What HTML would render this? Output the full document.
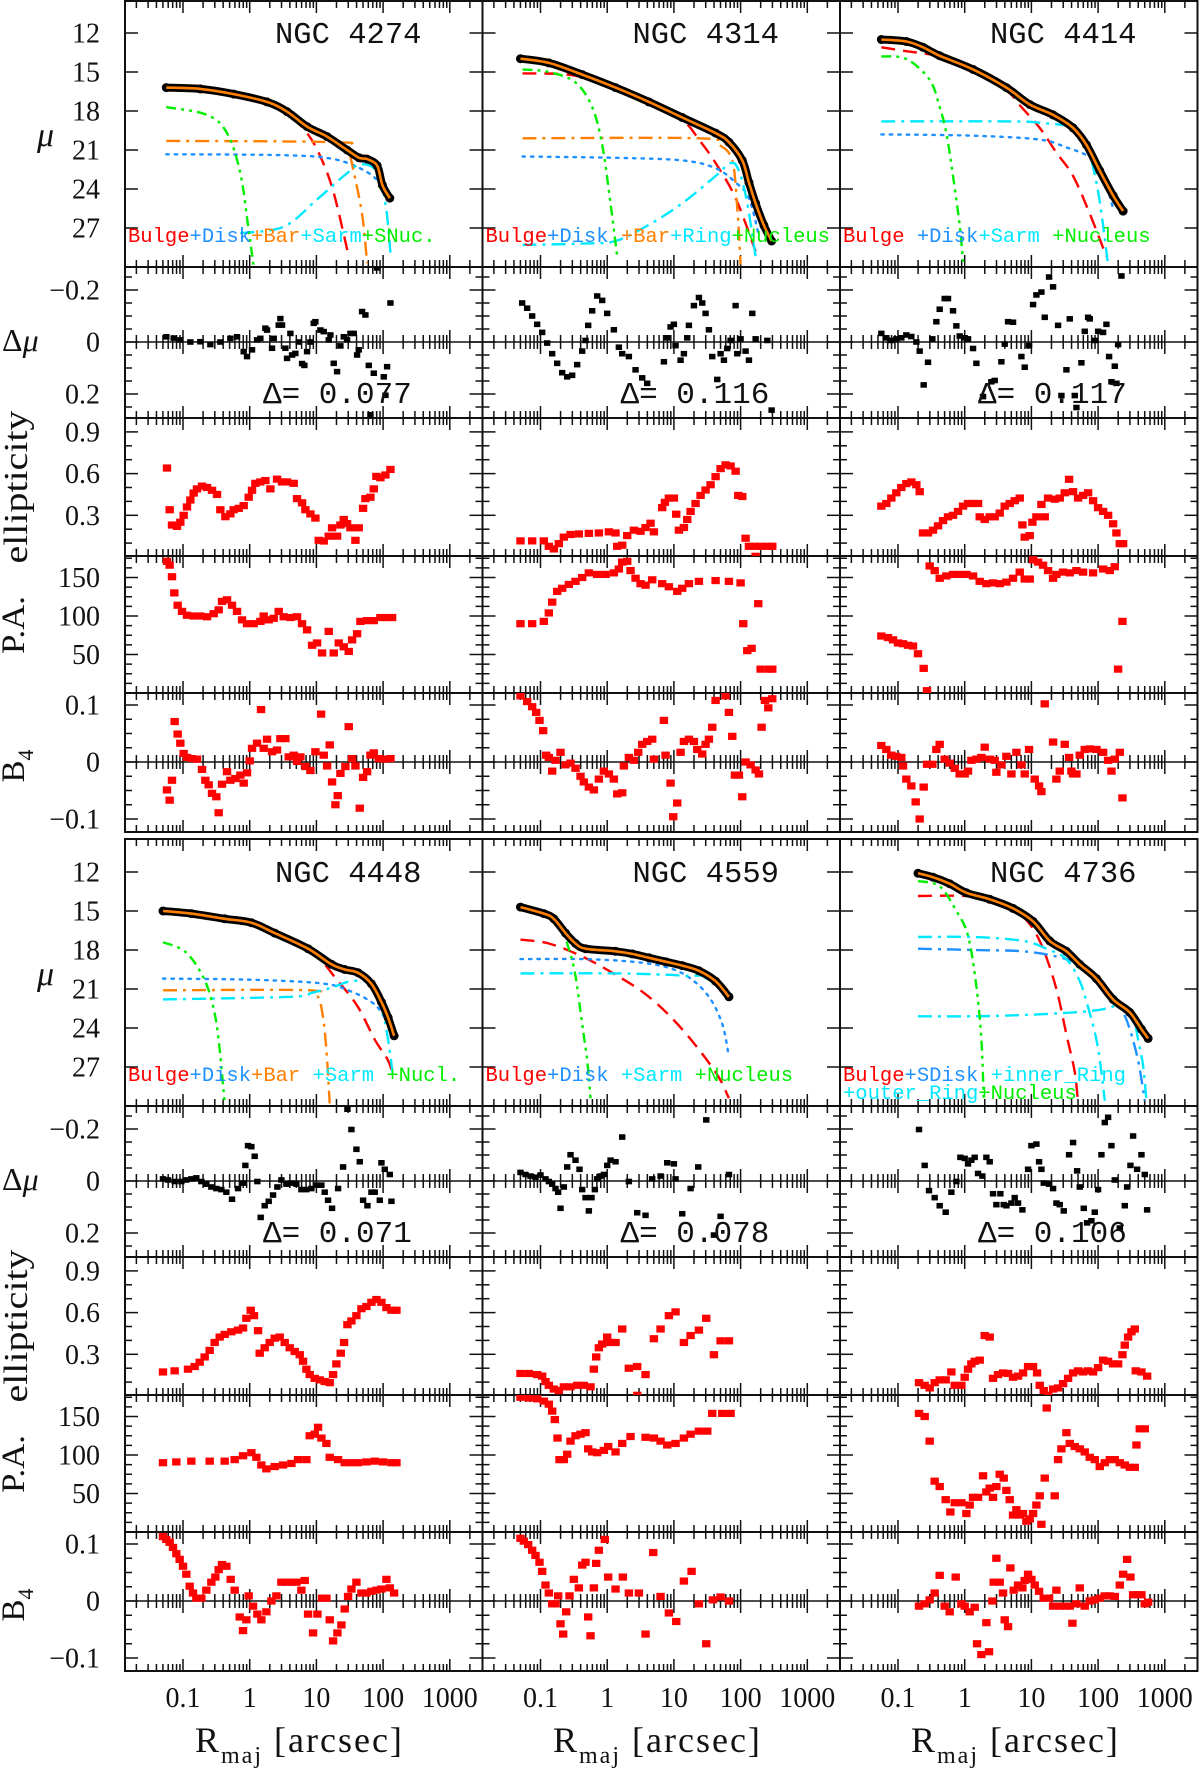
<!DOCTYPE html>
<html><head><meta charset="utf-8"><title>Surface brightness profile decompositions</title>
<style>
html,body{margin:0;padding:0;background:#fff;}
svg{display:block;}
.tl{font-family:"Liberation Serif",serif;font-size:28px;fill:#111;}
.ttl{font-family:"Liberation Serif",serif;fill:#111;}
.mono{font-family:"Liberation Mono",monospace;fill:#111;white-space:pre;}
.leg{font-family:"Liberation Mono",monospace;font-size:20.5px;white-space:pre;}
</style></head>
<body>
<svg id="chart" width="1200" height="1770" viewBox="0 0 1200 1770" xmlns="http://www.w3.org/2000/svg">
<rect x="0" y="0" width="1200" height="1770" fill="#fff"/>
<g id="plots"></g>
<g id="labels">
  <text class="ttl" x="37" y="146" font-size="34" font-style="italic">μ</text>
  <text class="ttl" x="2" y="351" font-size="32">Δ<tspan font-style="italic">μ</tspan></text>
  <text class="ttl" font-size="34" text-anchor="middle" textLength="153" lengthAdjust="spacingAndGlyphs" transform="translate(27,487) rotate(-90)">ellipticity</text>
  <text class="ttl" font-size="33" text-anchor="middle" textLength="58" lengthAdjust="spacingAndGlyphs" transform="translate(24,625) rotate(-90)">P.A.</text>
  <text class="ttl" font-size="33" text-anchor="middle" transform="translate(24,766) rotate(-90)">B<tspan font-size="22" dy="9">4</tspan></text>
  <text class="ttl" x="37" y="985" font-size="34" font-style="italic">μ</text>
  <text class="ttl" x="2" y="1190" font-size="32">Δ<tspan font-style="italic">μ</tspan></text>
  <text class="ttl" font-size="34" text-anchor="middle" textLength="153" lengthAdjust="spacingAndGlyphs" transform="translate(27,1326) rotate(-90)">ellipticity</text>
  <text class="ttl" font-size="33" text-anchor="middle" textLength="58" lengthAdjust="spacingAndGlyphs" transform="translate(24,1464) rotate(-90)">P.A.</text>
  <text class="ttl" font-size="33" text-anchor="middle" transform="translate(24,1605) rotate(-90)">B<tspan font-size="22" dy="9">4</tspan></text>
  <text class="ttl" x="195" y="1752" font-size="36" letter-spacing="2">R<tspan font-size="24" dy="11">maj</tspan><tspan dy="-11"> [arcsec]</tspan></text>
  <text class="ttl" x="553" y="1752" font-size="36" letter-spacing="2">R<tspan font-size="24" dy="11">maj</tspan><tspan dy="-11"> [arcsec]</tspan></text>
  <text class="ttl" x="911" y="1752" font-size="36" letter-spacing="2">R<tspan font-size="24" dy="11">maj</tspan><tspan dy="-11"> [arcsec]</tspan></text>
</g>
</svg>
<script>
// ---------------- DATA (log10 R [arcsec], value) ----------------
const galaxyNames=['NGC 4274','NGC 4314','NGC 4414','NGC 4448','NGC 4559','NGC 4736'];
const deltaValues=['0.077','0.116','0.117','0.071','0.078','0.106'];
const xTickValues=[0.1,1,10,100,1000];
const xTickLabels=['0.1','1','10','100','1000'];
const muTicks=[12,15,18,21,24,27];
const dmuTicks=[-0.2,0,0.2];
const dmuTickLabels=['\u22120.2','0','0.2'];
const ellTicks=[0.9,0.6,0.3];
const paTicks=[150,100,50];
const b4Ticks=[0.1,0,-0.1];
const b4TickLabels=['0.1','0','\u22120.1'];

// NGC 4274
const n4274_prof=[[-1.25,16.2],[-0.74,16.3],[-0.24,16.7],[0.26,17.3],[0.56,18.05],[0.86,19.2],[1.16,19.97],[1.46,21.0],[1.64,21.6],[1.76,21.7],[1.91,22.2],[1.99,23.7],[2.1,24.7]];
const n4274_bulge=[[-1.25,16.3],[-0.5,16.5],[0,17.0],[0.3,17.4],[0.56,18.1],[0.86,19.7],[1.06,21.5],[1.26,24.3],[1.49,29.3]];
const n4274_disk=[[-1.25,21.33],[0.5,21.4],[1.26,21.7],[1.76,22.7],[2.01,23.9],[2.11,24.8]];
const n4274_bar=[[-1.25,20.3],[1.3,20.4],[1.46,20.8],[1.56,22.7],[1.69,26.1],[1.76,29.7]];
const n4274_sarm=[[-0.14,27.4],[0.51,26.9],[1.01,24.8],[1.41,23.0],[1.66,22.1],[1.91,22.7],[2.04,25.3],[2.11,28.9]];
const n4274_nuc=[[-1.25,17.7],[-0.64,18.3],[-0.34,19.7],[-0.14,22.8],[-0.015,27.2],[0.06,30]];
const n4274_res=[[-1.25,-0.02],[-1.14,-0.015],[-1.04,-0.008],[-0.89,0],[-0.74,-0.001],[-0.59,0.01],[-0.44,0],[-0.29,-0.014],[-0.19,-0.02],[-0.09,0.037],[-0.04,0.056],[0.035,0.03],[0.11,-0.008],[0.16,-0.014],[0.235,-0.053],[0.26,-0.046],[0.335,0.024],[0.36,-0.014],[0.435,-0.065],[0.46,-0.09],[0.485,-0.065],[0.535,0.024],[0.56,0.063],[0.61,-0.033],[0.635,0.05],[0.685,0.044],[0.735,0],[0.785,0.083],[0.82,0.09],[0.86,0.037],[0.91,0],[0.96,-0.072],[0.985,-0.078],[1.06,-0.046],[1.11,-0.04],[1.185,-0.008],[1.21,-0.027],[1.26,0.082],[1.31,0.114],[1.36,0.015],[1.41,-0.02],[1.46,-0.008],[1.51,-0.033],[1.56,-0.033],[1.61,0.05],[1.635,0.03],[1.685,-0.117],[1.735,-0.104],[1.785,0.09],[1.86,0.12],[2.01,0.134],[2.035,0.205],[2.06,0.095],[2.11,-0.15],[1.81,0.28],[1.91,-0.285]];
const n4274_ell=[[-1.24,0.64],[-1.2,0.34],[-1.165,0.23],[-1.09,0.22],[-1.04,0.25],[-0.99,0.3],[-0.94,0.36],[-0.89,0.41],[-0.84,0.46],[-0.79,0.49],[-0.715,0.51],[-0.64,0.5],[-0.565,0.48],[-0.49,0.45],[-0.44,0.34],[-0.365,0.29],[-0.29,0.31],[-0.24,0.34],[-0.165,0.35],[-0.09,0.37],[-0.015,0.43],[0.035,0.48],[0.085,0.53],[0.16,0.54],[0.235,0.55],[0.31,0.49],[0.41,0.56],[0.485,0.54],[0.56,0.54],[0.66,0.53],[0.71,0.42],[0.785,0.39],[0.835,0.34],[0.91,0.31],[0.985,0.28],[1.035,0.12],[1.11,0.115],[1.185,0.15],[1.235,0.21],[1.31,0.15],[1.36,0.23],[1.41,0.27],[1.46,0.24],[1.51,0.21],[1.585,0.12],[1.635,0.21],[1.7,0.35],[1.735,0.42],[1.81,0.43],[1.86,0.49],[1.9,0.58],[1.96,0.57],[2.035,0.59],[2.11,0.63]];
const n4274_pa=[[-1.24,171],[-1.2,166],[-1.165,151],[-1.13,130],[-1.08,114],[-1.015,106],[-0.94,101],[-0.84,100],[-0.74,100],[-0.64,99],[-0.54,103],[-0.465,108],[-0.415,119],[-0.34,121],[-0.265,114],[-0.19,106],[-0.115,95],[-0.04,90],[0.06,90],[0.16,93],[0.21,100],[0.285,95],[0.36,97],[0.435,106],[0.51,99],[0.61,98],[0.71,99],[0.785,90],[0.86,82],[0.935,62],[1.01,65],[1.085,52],[1.185,80],[1.26,52],[1.335,65],[1.41,60],[1.485,54],[1.535,69],[1.61,77],[1.66,93],[1.76,94],[1.86,94],[1.96,98],[2.06,98],[2.135,98]];
const n4274_b4=[[-1.24,-0.049],[-1.2,-0.067],[-1.165,-0.032],[-1.125,0.071],[-1.08,0.049],[-1.04,0.033],[-0.99,0.015],[-0.94,0.008],[-0.865,0.006],[-0.79,0.005],[-0.715,-0.013],[-0.665,-0.032],[-0.615,-0.04],[-0.565,-0.055],[-0.5,-0.061],[-0.465,-0.089],[-0.415,-0.039],[-0.34,-0.017],[-0.29,-0.032],[-0.215,-0.029],[-0.14,-0.023],[-0.09,-0.037],[-0.04,-0.019],[0,0.002],[0.035,0.024],[0.11,0.033],[0.17,0.092],[0.21,0.024],[0.26,0.04],[0.335,0.018],[0.41,0.021],[0.46,0.041],[0.535,0.041],[0.585,0.009],[0.66,0.012],[0.71,0.001],[0.76,0.009],[0.835,-0.008],[0.91,-0.015],[0.985,0.018],[1.07,0.084],[1.11,0.012],[1.16,-0.007],[1.2,0.03],[1.235,-0.035],[1.285,-0.075],[1.32,-0.059],[1.36,-0.02],[1.435,-0.008],[1.485,0.062],[1.535,0.006],[1.585,-0.007],[1.65,-0.081],[1.7,-0.027],[1.76,-0.017],[1.81,0.012],[1.86,0.016],[1.935,0.006],[2.01,0.005],[2.11,0.006]];

// NGC 4314
const n4314_prof=[[-1.3,13.98],[-0.875,14.3],[-0.375,15.2],[0.125,16.2],[0.625,17.3],[1.125,18.5],[1.625,19.7],[1.825,20.4],[2.025,21.8],[2.125,23.5],[2.225,25.1],[2.35,26.8],[2.465,28.0]];
const n4314_bulge=[[-1.27,15.1],[-0.375,15.4],[0.625,17.5],[1.125,18.7],[1.375,20.2],[1.625,22.0],[1.925,24.7],[2.225,28.8]];
const n4314_disk=[[-1.27,21.5],[0.125,21.6],[1.125,21.8],[1.625,22.4],[1.925,23.5],[2.125,24.7],[2.275,27.6]];
const n4314_bar=[[-1.27,20.1],[1.375,20.1],[1.675,20.6],[1.875,21.8],[1.95,25.5],[2.0,29.8]];
const n4314_ring=[[-1.27,28.3],[-0.375,28.2],[0.125,28.0],[0.625,26.75],[1.125,25.1],[1.625,23.0],[1.85,22.0],[1.975,22.6],[2.1,25.1],[2.225,29.2]];
const n4314_nuc=[[-1.27,14.8],[-0.875,15.0],[-0.475,15.8],[-0.225,17.7],[-0.075,20.6],[0.05,25.1],[0.15,29.2]];
const n4314_res=[[-1.275,-0.15],[-1.2,-0.13],[-1.125,-0.1],[-1.05,-0.068],[-0.975,-0.037],[-0.9,0.004],[-0.825,0.045],[-0.75,0.082],[-0.675,0.118],[-0.6,0.134],[-0.525,0.128],[-0.45,0.087],[-0.375,0.035],[-0.325,-0.006],[-0.285,-0.064],[-0.225,-0.12],[-0.15,-0.177],[-0.075,-0.16],[0,-0.11],[0.1,-0.047],[0.175,0.02],[0.225,0.045],[0.325,0.056],[0.425,0.107],[0.525,0.138],[0.6,0.159],[0.85,0.076],[0.9,-0.016],[0.95,-0.058],[1.0,-0.068],[1.025,0.014],[1.1,0.07],[1.15,0.045],[1.2,-0.016],[1.225,-0.064],[1.3,-0.14],[1.375,-0.171],[1.425,-0.15],[1.475,-0.11],[1.525,-0.047],[1.575,0.056],[1.65,0.144],[1.7,0.045],[1.75,0.07],[1.8,0.025],[1.85,-0.006],[1.925,-0.14],[1.95,0.045],[2.0,-0.012],[2.075,0.035],[2.125,0.07],[2.175,-0.11],[2.225,-0.012],[2.4,-0.006],[2.465,0.262]];
const n4314_ell=[[-1.3,0.116],[-1.125,0.116],[-0.95,0.116],[-0.875,0.077],[-0.8,0.058],[-0.725,0.096],[-0.65,0.143],[-0.55,0.162],[-0.425,0.166],[-0.275,0.17],[-0.125,0.173],[0.025,0.181],[0.125,0.173],[0.15,0.077],[0.225,0.085],[0.3,0.154],[0.4,0.193],[0.5,0.185],[0.575,0.212],[0.65,0.243],[0.7,0.181],[0.825,0.355],[0.865,0.393],[0.925,0.424],[1.0,0.424],[1.035,0.308],[1.075,0.193],[1.15,0.212],[1.2,0.27],[1.25,0.328],[1.325,0.385],[1.4,0.443],[1.475,0.482],[1.55,0.52],[1.625,0.578],[1.7,0.636],[1.775,0.663],[1.85,0.655],[1.925,0.617],[1.965,0.443],[2.025,0.435],[2.075,0.135],[2.125,0.077],[2.2,0.077],[2.225,0.005],[2.3,0.077],[2.4,0.077],[2.475,0.077]];
const n4314_pa=[[-1.3,90],[-1.125,90],[-0.95,93],[-0.875,104],[-0.825,118],[-0.75,132],[-0.675,136],[-0.575,141],[-0.475,145],[-0.375,150],[-0.275,156],[-0.15,154],[-0.025,154],[0.1,156],[0.175,161],[0.225,170],[0.3,171],[0.35,159],[0.425,149],[0.5,142],[0.575,140],[0.675,147],[0.825,142],[0.925,138],[1.05,132],[1.125,136],[1.225,142],[1.375,145],[1.625,146],[1.825,145],[2.0,143],[2.04,90],[2.1,55],[2.165,58],[2.265,116],[2.3,31],[2.425,31],[2.475,31]];
const n4314_b4=[[-1.3,0.116],[-1.2,0.106],[-1.125,0.097],[-1.065,0.087],[-1.015,0.073],[-0.96,0.055],[-0.915,0.012],[-0.875,0.008],[-0.825,-0.016],[-0.775,0.003],[-0.7,0.017],[-0.625,-0.005],[-0.55,-0.002],[-0.475,-0.011],[-0.4,-0.025],[-0.35,-0.035],[-0.275,-0.044],[-0.2,-0.049],[-0.125,-0.03],[-0.05,-0.016],[0.025,-0.021],[0.1,-0.03],[0.15,-0.056],[0.225,-0.054],[0.25,-0.007],[0.325,0.008],[0.4,0.003],[0.465,0.017],[0.525,0.031],[0.6,0.036],[0.675,0.04],[0.7,0.005],[0.85,0.073],[0.875,0.012],[0.95,-0.037],[0.99,-0.096],[1.05,-0.072],[1.1,0.017],[1.15,0.036],[1.225,0.04],[1.3,0.036],[1.35,0.022],[1.425,0.014],[1.475,0.031],[1.525,0.04],[1.575,0.061],[1.625,0.108],[1.775,0.116],[1.825,0.087],[1.875,0.045],[1.915,-0.023],[1.975,-0.023],[2.025,-0.061],[2.075,0],[2.15,-0.005],[2.225,-0.014],[2.275,-0.021],[2.315,0.061],[2.365,0.108],[2.415,0.095],[2.475,0.111]];

// NGC 4414
const n4414_prof=[[-1.25,12.5],[-0.875,12.65],[-0.625,13.1],[-0.375,13.75],[0.125,14.8],[0.625,16.2],[0.975,17.5],[1.325,18.3],[1.625,19.3],[1.825,20.6],[2.025,22.6],[2.225,24.5],[2.375,25.7]];
const n4414_bulge=[[-1.25,13.1],[-0.875,13.4],[-0.375,13.8],[0.125,14.8],[0.625,16.4],[0.85,17.7],[1.125,19.3],[1.375,21.2],[1.625,23.0],[1.875,25.9],[2.125,29.2]];
const n4414_disk=[[-1.25,19.8],[0.125,19.9],[1.125,20.2],[1.525,20.8],[1.825,21.4],[1.975,22.2],[2.125,23.7],[2.225,25.5]];
const n4414_sarm=[[-1.25,18.8],[0.625,18.8],[1.125,18.9],[1.625,19.3],[1.825,20.6],[1.975,23.5],[2.075,26.8],[2.15,29.9]];
const n4414_nuc=[[-1.25,13.8],[-0.875,14.0],[-0.525,15.6],[-0.375,17.7],[-0.275,19.7],[-0.175,23.0],[-0.075,26.8],[-0.025,29.6]];
const n4414_res=[[-1.25,-0.033],[-1.175,-0.016],[-1.1,-0.006],[-1.025,-0.012],[-0.95,-0.016],[-0.875,-0.027],[-0.8,-0.021],[-0.725,0],[-0.675,0.035],[-0.615,0.165],[-0.55,0.078],[-0.485,-0.012],[-0.425,-0.078],[-0.375,-0.126],[-0.3,-0.167],[-0.25,-0.167],[-0.175,-0.12],[-0.125,-0.062],[-0.075,-0.023],[0,-0.016],[0.05,-0.012],[0.125,0.025],[0.175,0.082],[0.275,0.21],[0.4,0.153],[0.45,0.148],[0.55,0.076],[0.6,0.008],[0.65,-0.078],[0.725,-0.076],[0.85,0.056],[0.9,0.097],[0.965,0.014],[1.025,-0.144],[1.075,-0.181],[1.15,-0.192],[1.2,-0.095],[1.265,-0.25],[1.325,-0.212],[1.4,-0.064],[1.45,0.206],[1.525,0.107],[1.575,-0.089],[1.65,0.206],[1.675,0.252],[1.75,0.08],[1.8,-0.041],[1.85,-0.095],[1.875,-0.089],[1.95,-0.006],[2.0,-0.041],[2.075,-0.037],[2.125,-0.068],[2.165,0.056],[2.2,0.153],[2.25,0.093],[2.275,0.159],[2.3,0.01],[2.35,-0.254]];
const n4414_ell=[[-1.25,0.366],[-1.175,0.385],[-1.1,0.424],[-1.025,0.462],[-0.95,0.5],[-0.875,0.528],[-0.8,0.54],[-0.725,0.52],[-0.675,0.47],[-0.625,0.173],[-0.55,0.173],[-0.475,0.193],[-0.4,0.224],[-0.325,0.262],[-0.25,0.289],[-0.175,0.3],[-0.1,0.328],[-0.025,0.366],[0.05,0.385],[0.125,0.385],[0.2,0.385],[0.225,0.289],[0.3,0.27],[0.375,0.289],[0.45,0.289],[0.525,0.316],[0.6,0.366],[0.675,0.385],[0.75,0.405],[0.825,0.424],[0.865,0.231],[0.9,0.143],[0.975,0.154],[1.015,0.25],[1.075,0.289],[1.15,0.378],[1.2,0.289],[1.25,0.424],[1.35,0.416],[1.425,0.424],[1.5,0.462],[1.565,0.559],[1.625,0.47],[1.7,0.424],[1.775,0.443],[1.85,0.462],[1.925,0.405],[2.0,0.355],[2.075,0.328],[2.15,0.3],[2.225,0.239],[2.275,0.173],[2.325,0.096],[2.375,0.096]];
const n4414_pa=[[-1.25,74],[-1.15,72],[-1.075,69],[-1.0,65],[-0.925,64],[-0.85,62],[-0.775,61],[-0.7,51],[-0.615,32],[-0.565,3],[-0.525,165],[-0.45,159],[-0.375,149],[-0.275,152],[-0.175,154],[-0.075,154],[0.025,154],[0.125,152],[0.225,145],[0.325,142],[0.425,143],[0.525,142],[0.625,144],[0.725,149],[0.825,157],[0.9,148],[0.975,148],[1.025,173],[1.1,170],[1.175,166],[1.25,159],[1.325,149],[1.375,154],[1.475,157],[1.575,156],[1.675,159],[1.775,157],[1.925,156],[2.075,161],[2.175,159],[2.25,164],[2.3,31],[2.365,93]];
const n4414_b4=[[-1.25,0.029],[-1.175,0.022],[-1.1,0.012],[-1.025,0.01],[-0.95,0.008],[-0.925,-0.007],[-0.875,-0.03],[-0.8,-0.042],[-0.735,-0.07],[-0.675,-0.1],[-0.615,-0.044],[-0.565,-0.004],[-0.485,-0.004],[-0.425,0.022],[-0.375,0.031],[-0.3,0.005],[-0.225,-0.002],[-0.15,-0.011],[-0.075,-0.021],[0,-0.021],[0.05,-0.016],[0.1,0.003],[0.175,0.005],[0.25,0.008],[0.3,0.026],[0.375,0.005],[0.45,0.003],[0.475,-0.018],[0.55,-0.005],[0.625,0.01],[0.7,-0.021],[0.775,0.017],[0.85,-0.005],[0.9,-0.021],[0.965,0.022],[1.05,-0.03],[1.115,-0.042],[1.15,-0.052],[1.2,0.102],[1.325,0.035],[1.375,-0.03],[1.425,-0.016],[1.5,0.031],[1.565,0.008],[1.6,-0.016],[1.625,-0.021],[1.675,-0.021],[1.725,0.012],[1.8,0.022],[1.875,0.023],[1.975,0.022],[2.075,0.017],[2.15,0.003],[2.2,-0.016],[2.25,0.005],[2.325,0.017],[2.365,-0.063]];

// NGC 4448
const n4448_prof=[[-1.3,15.0],[-0.875,15.2],[-0.375,15.6],[0.025,15.9],[0.375,16.7],[0.875,17.9],[1.225,19.1],[1.425,19.5],[1.625,19.75],[1.825,20.6],[1.975,22.0],[2.075,23.2],[2.165,24.6]];
const n4448_bulge=[[-1.3,15.0],[0.025,15.9],[0.875,17.9],[1.325,20.4],[1.625,22.4],[1.875,24.9],[2.075,26.5],[2.15,27.8]];
const n4448_disk=[[-1.3,20.2],[0.125,20.3],[1.125,20.6],[1.525,21.2],[1.825,22.0],[1.975,22.8],[2.125,24.3]];
const n4448_bar=[[-1.3,21.1],[0.875,21.1],[1.025,21.6],[1.1,23.2],[1.15,25.7],[1.2,29.8]];
const n4448_sarm=[[-1.3,21.8],[0.625,21.6],[0.925,21.3],[1.225,20.9],[1.525,20.4],[1.825,20.6],[1.975,22.4],[2.075,24.9],[2.15,27.8]];
const n4448_nuc=[[-1.3,17.4],[-0.975,18.1],[-0.725,19.8],[-0.575,21.8],[-0.475,24.5],[-0.375,29.8]];
const n4448_res=[[-1.3,-0.008],[-1.225,-0.004],[-1.125,0.002],[-1.025,0.002],[-0.95,-0.004],[-0.875,-0.008],[-0.8,-0.012],[-0.725,0.002],[-0.65,0.012],[-0.575,0.023],[-0.5,0.029],[-0.425,0.033],[-0.35,0.043],[-0.265,0.07],[-0.175,0.029],[-0.1,0.008],[-0.065,-0.06],[-0.025,-0.136],[0.025,-0.132],[0.075,-0.095],[0.115,0.002],[0.165,0.14],[0.225,0.095],[0.285,0.078],[0.35,0.054],[0.415,0.023],[0.475,-0.004],[0.55,0.012],[0.625,0.008],[0.7,0.012],[0.775,0.033],[0.85,0.033],[0.925,0.029],[1.0,0.016],[1.075,0.016],[1.125,0.043],[1.175,0.074],[1.235,0.105],[1.325,0.029],[1.4,-0.054],[1.465,-0.276],[1.525,-0.198],[1.6,-0.122],[1.65,-0.074],[1.7,0.074],[1.765,0.095],[1.825,0.043],[1.875,0.043],[1.95,0.074],[1.975,-0.07],[2.025,-0.045],[2.1,-0.025],[2.125,0.078]];
const n4448_ell=[[-1.3,0.173],[-1.125,0.181],[-0.925,0.193],[-0.825,0.212],[-0.75,0.243],[-0.675,0.281],[-0.6,0.328],[-0.525,0.385],[-0.45,0.424],[-0.375,0.443],[-0.275,0.462],[-0.175,0.474],[-0.1,0.489],[-0.05,0.559],[0.015,0.617],[0.065,0.578],[0.125,0.47],[0.15,0.308],[0.225,0.347],[0.3,0.385],[0.375,0.416],[0.45,0.424],[0.525,0.385],[0.6,0.347],[0.675,0.32],[0.75,0.297],[0.8,0.25],[0.85,0.193],[0.9,0.154],[0.975,0.127],[1.05,0.116],[1.125,0.104],[1.2,0.096],[1.25,0.154],[1.3,0.231],[1.365,0.308],[1.415,0.385],[1.465,0.513],[1.525,0.54],[1.6,0.578],[1.675,0.628],[1.75,0.644],[1.825,0.674],[1.9,0.694],[1.975,0.674],[2.05,0.636],[2.125,0.617],[2.2,0.617]];
const n4448_pa=[[-1.3,90],[-1.1,91],[-0.875,92],[-0.6,92],[-0.375,92],[-0.225,94],[-0.1,99],[0.025,103],[0.1,97],[0.175,87],[0.25,82],[0.375,85],[0.5,87],[0.625,89],[0.725,94],[0.85,94],[0.9,125],[0.975,127],[1.025,136],[1.075,122],[1.15,115],[1.2,97],[1.325,94],[1.425,90],[1.525,90],[1.625,90],[1.75,91],[1.875,92],[2.0,91],[2.125,90],[2.2,90]];
const n4448_b4=[[-1.3,0.113],[-1.25,0.108],[-1.2,0.103],[-1.15,0.094],[-1.1,0.083],[-1.05,0.073],[-1.0,0.061],[-0.95,0.047],[-0.9,0.026],[-0.85,0.014],[-0.8,0.005],[-0.725,0.005],[-0.65,0.019],[-0.575,0.033],[-0.515,0.042],[-0.465,0.055],[-0.415,0.064],[-0.35,0.061],[-0.285,0.038],[-0.225,0.019],[-0.15,-0.028],[-0.1,-0.052],[-0.05,-0.033],[-0.015,0.009],[0.05,-0.009],[0.115,-0.023],[0.175,-0.033],[0.25,-0.019],[0.325,0],[0.4,0.009],[0.475,0.033],[0.55,0.033],[0.625,0.033],[0.7,0.033],[0.775,0.019],[0.825,0.036],[0.875,-0.023],[0.95,-0.056],[1.015,-0.023],[1.085,0.005],[1.15,0.005],[1.2,-0.033],[1.25,-0.07],[1.315,-0.056],[1.375,-0.042],[1.425,-0.014],[1.475,0.008],[1.525,0.021],[1.6,0.033],[1.675,0.014],[1.75,0.014],[1.825,0.017],[1.9,0.019],[1.975,0.021],[2.05,0.038],[2.1,0.023],[2.165,0.014]];

// NGC 4559
const n4559_prof=[[-1.3,14.7],[-0.95,15.2],[-0.8,15.6],[-0.625,16.7],[-0.475,17.5],[-0.325,17.9],[0.125,18.1],[0.375,18.3],[0.625,18.6],[0.875,18.9],[1.125,19.2],[1.375,19.6],[1.625,20.4],[1.825,21.6]];
const n4559_bulge=[[-1.3,17.2],[-0.875,17.5],[-0.375,18.5],[0.125,19.9],[0.625,21.6],[1.125,24.1],[1.625,27.4],[1.825,29.4]];
const n4559_disk=[[-1.3,18.7],[-0.375,18.7],[0.375,18.9],[0.875,19.3],[1.225,20.1],[1.525,21.6],[1.725,23.7],[1.825,26.2]];
const n4559_sarm=[[-1.3,19.8],[0.125,19.8],[0.875,19.9],[1.225,20.0],[1.425,20.0],[1.575,20.6]];
const n4559_nuc=[[-1.3,14.8],[-0.975,15.1],[-0.725,16.0],[-0.575,17.9],[-0.475,20.0],[-0.375,23.7],[-0.3,26.5],[-0.25,29.4]];
const n4559_res=[[-1.3,-0.033],[-1.225,-0.025],[-1.15,-0.019],[-1.075,-0.014],[-1.0,-0.023],[-0.925,-0.008],[-0.875,0.002],[-0.825,0.012],[-0.775,0.029],[-0.735,0.043],[-0.7,0.105],[-0.65,0.023],[-0.6,-0.054],[-0.55,-0.101],[-0.475,-0.08],[-0.415,-0.045],[-0.375,0.033],[-0.325,0.064],[-0.275,0.115],[-0.235,0.064],[-0.185,0.033],[-0.15,-0.008],[-0.1,-0.019],[-0.05,-0.025],[0,-0.06],[0.05,-0.08],[0.125,-0.074],[0.225,-0.169],[0.325,0.002],[0.45,0.122],[0.575,0.132],[0.675,-0.008],[0.8,-0.019],[0.9,-0.07],[1.0,-0.066],[1.025,-0.008],[1.125,0.126],[1.25,0.029],[1.365,-0.054],[1.485,-0.235],[1.6,0.208],[1.7,0.136],[1.825,-0.025]];
const n4559_ell=[[-1.3,0.162],[-1.175,0.162],[-1.05,0.154],[-0.975,0.143],[-0.925,0.104],[-0.875,0.077],[-0.8,0.05],[-0.725,0.039],[-0.65,0.066],[-0.55,0.066],[-0.45,0.077],[-0.35,0.077],[-0.25,0.066],[-0.2,0.193],[-0.165,0.281],[-0.125,0.347],[-0.075,0.374],[0,0.424],[0.05,0.385],[0.125,0.385],[0.225,0.482],[0.325,0.2],[0.45,0.212],[0.45,0.005],[0.575,0.154],[0.7,0.412],[0.8,0.482],[0.925,0.578],[1.025,0.605],[1.15,0.385],[1.25,0.435],[1.375,0.474],[1.485,0.559],[1.6,0.297],[1.7,0.397],[1.825,0.397]];
const n4559_pa=[[-1.3,175],[-1.175,174],[-1.05,173],[-0.95,170],[-0.875,166],[-0.825,157],[-0.785,146],[-0.745,122],[-0.715,94],[-0.65,94],[-0.6,101],[-0.55,118],[-0.475,125],[-0.4,127],[-0.325,129],[-0.285,108],[-0.225,104],[-0.15,103],[-0.05,106],[0.015,111],[0.125,104],[0.225,115],[0.35,124],[0.575,123],[0.7,122],[0.8,118],[0.9,113],[1.025,115],[1.15,122],[1.25,127],[1.375,131],[1.5,131],[1.575,154],[1.725,154],[1.85,154]];
const n4559_b4=[[-1.3,0.11],[-1.25,0.105],[-1.185,0.099],[-1.125,0.089],[-1.075,0.08],[-1.015,0.068],[-0.975,0.052],[-0.925,0.028],[-0.875,0.014],[-0.825,-0.005],[-0.775,-0.005],[-0.735,0.009],[-0.7,-0.04],[-0.66,-0.058],[-0.615,-0.019],[-0.565,0.009],[-0.5,0.038],[-0.425,0.023],[-0.375,0.063],[-0.325,0.068],[-0.285,-0.028],[-0.25,-0.061],[-0.2,0.023],[-0.165,0.066],[-0.125,0.089],[-0.035,0.108],[0.015,0.042],[0.125,0.021],[0.235,0.042],[0.325,0.014],[0.475,0.014],[0.575,-0.058],[0.69,0.085],[0.8,0.008],[0.925,-0.021],[1.035,-0.036],[1.15,0.035],[1.265,0.052],[1.375,-0.005],[1.485,-0.075],[1.585,0.002],[1.7,0.007],[1.825,0]];

// NGC 4736
const n4736_prof=[[-0.7,12.1],[-0.475,12.4],[-0.225,12.9],[0.025,13.6],[0.375,14.1],[0.725,14.8],[1.025,15.8],[1.275,17.3],[1.525,18.1],[1.725,19.1],[1.975,20.2],[2.225,21.8],[2.475,22.8],[2.65,24.1],[2.75,24.8]];
const n4736_bulge=[[-0.7,13.85],[0.025,13.85],[0.375,14.2],[0.725,14.9],[0.975,16.0],[1.175,17.9],[1.375,21.0],[1.525,24.5],[1.65,27.4],[1.7,29.8]];
const n4736_sdisk=[[-0.7,17.9],[0.125,18.0],[0.875,18.1],[1.375,18.5],[1.725,19.1],[2.025,20.2],[2.225,21.6],[2.375,22.8],[2.475,24.1],[2.6,26.5],[2.7,29.6]];
const n4736_iring=[[-0.7,17.0],[0.125,17.0],[0.875,17.3],[1.225,17.9],[1.525,18.7],[1.725,20.4],[1.85,22.4],[1.975,24.9],[2.05,27.4],[2.1,29.6]];
const n4736_oring=[[-0.7,23.1],[0.125,23.1],[0.875,23.0],[1.625,22.8],[2.025,22.6],[2.275,22.3],[2.425,22.4],[2.525,23.0],[2.6,24.9],[2.675,26.9],[2.725,29.6]];
const n4736_nuc=[[-0.7,12.7],[-0.375,13.1],[-0.125,15.0],[0.05,16.9],[0.175,20.8],[0.25,24.9],[0.285,29.4]];
const n4736_res=[[-0.685,-0.198],[-0.6,-0.06],[-0.535,0.037],[-0.45,0.064],[-0.375,0.095],[-0.285,0.12],[-0.2,0.043],[-0.125,0.002],[-0.065,-0.091],[0,-0.087],[0.05,-0.066],[0.1,-0.08],[0.15,-0.091],[0.2,-0.029],[0.265,-0.019],[0.325,-0.091],[0.375,-0.074],[0.425,0.049],[0.475,0.091],[0.535,0.049],[0.585,0.091],[0.625,0.095],[0.7,0.085],[0.75,0.064],[0.8,0.085],[0.865,0.111],[0.95,-0.045],[1.0,-0.136],[1.075,-0.142],[1.115,-0.074],[1.15,-0.045],[1.185,0.008],[1.265,0.012],[1.325,0.029],[1.375,0.085],[1.425,0.091],[1.485,0.115],[1.565,-0.101],[1.625,-0.148],[1.685,-0.039],[1.725,0.023],[1.785,0.105],[1.835,0.161],[1.9,0.153],[1.95,0.12],[2.0,0.033],[2.05,-0.101],[2.1,-0.225],[2.15,-0.245],[2.2,-0.136],[2.25,-0.004],[2.325,0.181],[2.4,0.095],[2.435,0.023],[2.485,-0.06],[2.525,-0.173],[2.585,-0.045],[2.65,-0.101],[2.7,-0.025],[2.735,0.111]];
const n4736_ell=[[-0.685,0.096],[-0.6,0.077],[-0.525,0.058],[-0.45,0.096],[-0.375,0.116],[-0.285,0.116],[-0.2,0.173],[-0.15,0.077],[-0.05,0.077],[0,0.135],[0.05,0.193],[0.1,0.231],[0.15,0.25],[0.225,0.258],[0.3,0.435],[0.375,0.424],[0.425,0.127],[0.5,0.154],[0.575,0.166],[0.65,0.162],[0.725,0.135],[0.8,0.143],[0.875,0.166],[0.95,0.212],[1.025,0.212],[1.085,0.166],[1.125,0.077],[1.185,0.039],[1.25,0.005],[1.325,0.05],[1.4,0.058],[1.475,0.089],[1.55,0.127],[1.625,0.166],[1.7,0.181],[1.775,0.173],[1.85,0.181],[1.925,0.173],[2.0,0.204],[2.075,0.258],[2.15,0.25],[2.225,0.231],[2.3,0.231],[2.365,0.297],[2.4,0.366],[2.45,0.424],[2.5,0.462],[2.55,0.482],[2.565,0.181],[2.65,0.173],[2.735,0.143]];
const n4736_pa=[[-0.685,154],[-0.6,150],[-0.525,118],[-0.45,66],[-0.375,59],[-0.285,42],[-0.215,26],[-0.15,38],[-0.05,38],[0.025,24],[0.075,35],[0.125,45],[0.2,45],[0.275,73],[0.325,52],[0.375,57],[0.425,45],[0.475,59],[0.525,75],[0.585,70],[0.625,54],[0.675,42],[0.725,22],[0.775,29],[0.825,22],[0.875,24],[0.925,14],[0.975,17],[1.025,24],[1.075,35],[1.125,47],[1.15,10],[1.2,70],[1.23,161],[1.35,47],[1.4,94],[1.45,108],[1.525,129],[1.575,115],[1.65,111],[1.725,108],[1.8,104],[1.875,97],[1.95,94],[2.025,85],[2.1,90],[2.175,94],[2.25,94],[2.325,90],[2.4,87],[2.475,84],[2.55,84],[2.575,113],[2.625,134],[2.7,134]];
const n4736_b4=[[-0.685,-0.009],[-0.6,-0.005],[-0.525,0.002],[-0.45,0.014],[-0.375,0.045],[-0.3,-0.009],[-0.225,-0.019],[-0.135,0.042],[-0.05,-0.005],[0,-0.009],[0.075,-0.019],[0.15,-0.011],[0.185,-0.075],[0.25,-0.094],[0.325,-0.038],[0.365,-0.089],[0.415,0],[0.435,0.033],[0.475,0.075],[0.525,0.033],[0.575,0.014],[0.6,-0.033],[0.65,-0.045],[0.685,0.058],[0.735,0.019],[0.8,0.028],[0.865,0.023],[0.9,0.036],[0.95,0.047],[1.0,0.038],[1.05,0.028],[1.115,0.017],[1.185,0.005],[1.265,0.005],[1.325,-0.009],[1.375,0.019],[1.425,-0.009],[1.5,-0.009],[1.575,-0.009],[1.615,-0.039],[1.675,-0.005],[1.725,0.023],[1.8,-0.009],[1.875,0],[1.95,0.002],[2.025,0.005],[2.1,0.009],[2.175,0.009],[2.25,0.008],[2.325,0.028],[2.375,0.047],[2.435,0.073],[2.485,0.042],[2.525,0.011],[2.6,0.011],[2.65,0.011],[2.7,-0.005],[2.75,-0.002]];

// ---------------- STYLES / LAYOUT ----------------
const STY={bulge:{c:'#ff0000',d:'14 8'},disk:{c:'#1e90ff',d:'2.5 6'},bar:{c:'#ff8000',d:'14 6 3 6'},sarm:{c:'#00e8ff',d:'14 6 3 6'},nuc:{c:'#00ee00',d:'10 5 3 5 3 5'},sdisk:{c:'#1e90ff',d:'14 6 3 6'}};
const LC={r:'#ff0000',b:'#1e90ff',o:'#ff8000',c:'#00e8ff',g:'#00ee00'};
const GAL=[
 {col:0,blk:0,prof:n4274_prof,comps:[['bulge',n4274_bulge],['disk',n4274_disk],['bar',n4274_bar],['sarm',n4274_sarm],['nuc',n4274_nuc]],res:n4274_res,ell:n4274_ell,pa:n4274_pa,b4:n4274_b4,
  leg:[[[ 'Bulge','r'],['+Disk','b'],['+Bar','o'],['+Sarm','c'],['+SNuc.','g']]]},
 {col:1,blk:0,prof:n4314_prof,comps:[['bulge',n4314_bulge],['disk',n4314_disk],['bar',n4314_bar],['sarm',n4314_ring],['nuc',n4314_nuc]],res:n4314_res,ell:n4314_ell,pa:n4314_pa,b4:n4314_b4,
  leg:[[['Bulge','r'],['+Disk ','b'],['+Bar','o'],['+Ring','c'],['+Nucleus','g']]]},
 {col:2,blk:0,prof:n4414_prof,comps:[['bulge',n4414_bulge],['disk',n4414_disk],['sarm',n4414_sarm],['nuc',n4414_nuc]],res:n4414_res,ell:n4414_ell,pa:n4414_pa,b4:n4414_b4,
  leg:[[['Bulge ','r'],['+Disk','b'],['+Sarm ','c'],['+Nucleus','g']]]},
 {col:0,blk:1,prof:n4448_prof,comps:[['bulge',n4448_bulge],['disk',n4448_disk],['bar',n4448_bar],['sarm',n4448_sarm],['nuc',n4448_nuc]],res:n4448_res,ell:n4448_ell,pa:n4448_pa,b4:n4448_b4,
  leg:[[['Bulge','r'],['+Disk','b'],['+Bar ','o'],['+Sarm ','c'],['+Nucl.','g']]]},
 {col:1,blk:1,prof:n4559_prof,comps:[['bulge',n4559_bulge],['disk',n4559_disk],['sarm',n4559_sarm],['nuc',n4559_nuc]],res:n4559_res,ell:n4559_ell,pa:n4559_pa,b4:n4559_b4,
  leg:[[['Bulge','r'],['+Disk ','b'],['+Sarm ','c'],['+Nucleus','g']]]},
 {col:2,blk:1,prof:n4736_prof,comps:[['bulge',n4736_bulge],['sdisk',n4736_sdisk],['sarm',n4736_iring],['sarm',n4736_oring],['nuc',n4736_nuc]],res:n4736_res,ell:n4736_ell,pa:n4736_pa,b4:n4736_b4,
  leg:[[['Bulge','r'],['+SDisk ','b'],['+inner_Ring','c']],[['+outer_Ring','c'],['+Nucleus','g']]]}
];
const COLS=[125,482.5,840], CW=357.5, DEC=66.7, BLK=[0,839];
function X(c,lr){return COLS[c]+58+(lr+1)*DEC;}
function Ymu(b,v){return b+33+(v-12)*13;}
function Ydmu(b,v){return b+342+v*260;}
function Yell(b,v){return b+557-v*139;}
function Ypa(b,v){return b+693-v*0.77;}
function Yb4(b,v){return b+762-v*570;}
const PAN=[['mu',0,267],['dmu',267,418],['ell',418,556],['pa',556,693],['b4',693,832]];

const NS='http://www.w3.org/2000/svg';
const root=document.getElementById('plots');
function mk(tag,attrs,parent){const e=document.createElementNS(NS,tag);for(const k in attrs)e.setAttribute(k,attrs[k]);(parent||root).appendChild(e);return e;}
function smooth(p){let d='M'+p[0][0].toFixed(1)+','+p[0][1].toFixed(1);
 for(let i=0;i<p.length-1;i++){const p0=p[i-1]||p[i],p1=p[i],p2=p[i+1],p3=p[i+2]||p2;
  const c1=[p1[0]+(p2[0]-p0[0])/6,p1[1]+(p2[1]-p0[1])/6],c2=[p2[0]-(p3[0]-p1[0])/6,p2[1]-(p3[1]-p1[1])/6];
  d+=' C'+c1[0].toFixed(1)+','+c1[1].toFixed(1)+' '+c2[0].toFixed(1)+','+c2[1].toFixed(1)+' '+p2[0].toFixed(1)+','+p2[1].toFixed(1);}
 return d;}

const defs=mk('defs',{});


BLK.forEach((B,bi)=>{COLS.forEach((cx,ci)=>{PAN.forEach(([nm,t,bt])=>{
  const cp=mk('clipPath',{id:`cp-${bi}-${ci}-${nm}`},defs);
  mk('rect',{x:cx,y:B+t,width:CW,height:bt-t},cp);
});});});

function xTicks(g,c,y,up,down){
  for(let e=-2;e<=3;e++){for(let m=1;m<=9;m++){
    const lr=e+Math.log10(m); const x=X(c,lr);
    if(x<COLS[c]+1||x>COLS[c]+CW-1)continue;
    const L=(m===1)?12:7;
    const t=mk('line',{x1:x,x2:x,y1:y-(up?L:0),y2:y+(down?L:0),stroke:'#111','stroke-width':1.5},g);
    
    
  }}
}
function yTicks(g,c,B,fy,vals,major){
  vals.forEach(v=>{const y=fy(B,v);const L=major(v)?13:7;
    [[COLS[c],1],[COLS[c]+CW,-1]].forEach(([x0,s])=>{
      const t=mk('line',{x1:x0,x2:x0+s*L,y1:y,y2:y,stroke:'#111','stroke-width':1.5},g);
      
      
    });});
}
function range(a,b,s){const r=[];for(let v=a;v<=b+1e-9;v+=s)r.push(+v.toFixed(4));return r;}
const near=(v,arr)=>arr.some(a=>Math.abs(a-v)<1e-6);

BLK.forEach((B,bi)=>{COLS.forEach((cx,c)=>{
  const g=mk('g',{});
  
  
  const fr=mk('rect',{x:cx,y:B+(bi===0?1:0),width:CW,height:832-(bi===0?1:0),fill:'none',stroke:'#111','stroke-width':2},g);
  
  
  [267,418,556,693].forEach(o=>{const l=mk('line',{x1:cx,x2:cx+CW,y1:B+o,y2:B+o,stroke:'#111','stroke-width':2},g);
    
    });
  [342,762].forEach(o=>{const l=mk('line',{x1:cx,x2:cx+CW,y1:B+o,y2:B+o,stroke:'#111','stroke-width':1.5},g);
    
    
    xTicks(g,c,B+o,true,true);});
  xTicks(g,c,B+(bi===0?1:0),false,true);
  [267,418,556,693].forEach(o=>xTicks(g,c,B+o,true,true));
  xTicks(g,c,B+832,true,false);
  yTicks(g,c,B,Ymu,muTicks,()=>true);
  yTicks(g,c,B,Ydmu,range(-0.25,0.25,0.05),v=>near(v,dmuTicks));
  yTicks(g,c,B,Yell,range(0.1,0.9,0.1),v=>near(v,ellTicks));
  yTicks(g,c,B,Ypa,range(12.5,175,12.5),v=>near(v,paTicks));
  yTicks(g,c,B,Yb4,range(-0.1,0.1,0.025),v=>near(v,b4Ticks));
});});

BLK.forEach(B=>{
  const lab=(y,txt)=>{const t=mk('text',{x:100,y:y+9.5,'text-anchor':'end',class:'tl'});t.textContent=txt;
    
    };
  muTicks.forEach(v=>lab(Ymu(B,v),String(v)));
  dmuTicks.forEach((v,i)=>lab(Ydmu(B,v),dmuTickLabels[i]));
  ellTicks.forEach(v=>lab(Yell(B,v),v.toFixed(1)));
  paTicks.forEach(v=>lab(Ypa(B,v),String(v)));
  b4Ticks.forEach((v,i)=>lab(Yb4(B,v),b4TickLabels[i]));
});
COLS.forEach((cx,c)=>{xTickValues.forEach((v,i)=>{
  const t=mk('text',{x:X(c,Math.log10(v)),y:1707,'text-anchor':'middle',class:'tl'});t.textContent=xTickLabels[i];
  
  
});});

GAL.forEach((G,gi)=>{
  const B=BLK[G.blk], c=G.col, cx=COLS[c];
  const g=mk('g',{});
  
  
  const cl=nm=>`url(#cp-${G.blk}-${c}-${nm})`;
  const gc=mk('g',{'clip-path':cl('mu')},g);
  
  
  G.comps.forEach(([k,arr])=>{
    const pts=arr.map(p=>[X(c,p[0]),Ymu(B,p[1])]);
    const s=STY[k];
    const pa=mk('path',{d:smooth(pts),fill:'none',stroke:s.c,'stroke-width':2.4,'stroke-dasharray':s.d,'stroke-linecap':k==='disk'?'round':'butt'},gc);
    
    
  });
  const pp=G.prof.map(p=>[X(c,p[0]),Ymu(B,p[1])]);
  const pd=mk('path',{d:smooth(pp),fill:'none',stroke:'#000','stroke-width':8,'stroke-linecap':'round','stroke-linejoin':'round'},gc);
  
  
  G.prof.forEach(p=>{const ci=mk('circle',{cx:X(c,p[0]),cy:Ymu(B,p[1]),r:4.5,fill:'#000'},gc);
    
    });
  const pm=mk('path',{d:smooth(pp),fill:'none',stroke:'#ff8000','stroke-width':2.6},gc);
  
  
  G.leg.forEach((line,li)=>{
    const t=mk('text',{x:cx+3,y:B+242+li*18,class:'leg'},g);
    
    
    line.forEach(([txt,col])=>{const s=mk('tspan',{fill:LC[col]},t);s.textContent=txt;
      
      });
  });
  const ti=mk('text',{x:cx+150,y:B+43,class:'mono','font-size':30.5},g);ti.textContent=galaxyNames[gi];
  
  
  const gr=mk('g',{'clip-path':cl('dmu')},g);
  
  
  G.res.forEach(p=>{const r=mk('rect',{x:X(c,p[0])-3.2,y:Ydmu(B,p[1])-2.8,width:6.4,height:5.6,fill:'#000'},gr);
    
    });
  const dt=mk('text',{x:cx+138,y:B+403,class:'mono','font-size':31},g);dt.textContent='\u0394= '+deltaValues[gi];
  
  
  [['ell',G.ell,Yell],['pa',G.pa,Ypa],['b4',G.b4,Yb4]].forEach(([nm,arr,fy])=>{
    const gg=mk('g',{'clip-path':cl(nm)},g);
    
    
    arr.forEach(p=>{const r=mk('rect',{x:X(c,p[0])-4.2,y:fy(B,p[1])-3.6,width:8.4,height:7.2,fill:'#ff0000'},gg);
      
      });
  });
});
</script>
</body></html>
